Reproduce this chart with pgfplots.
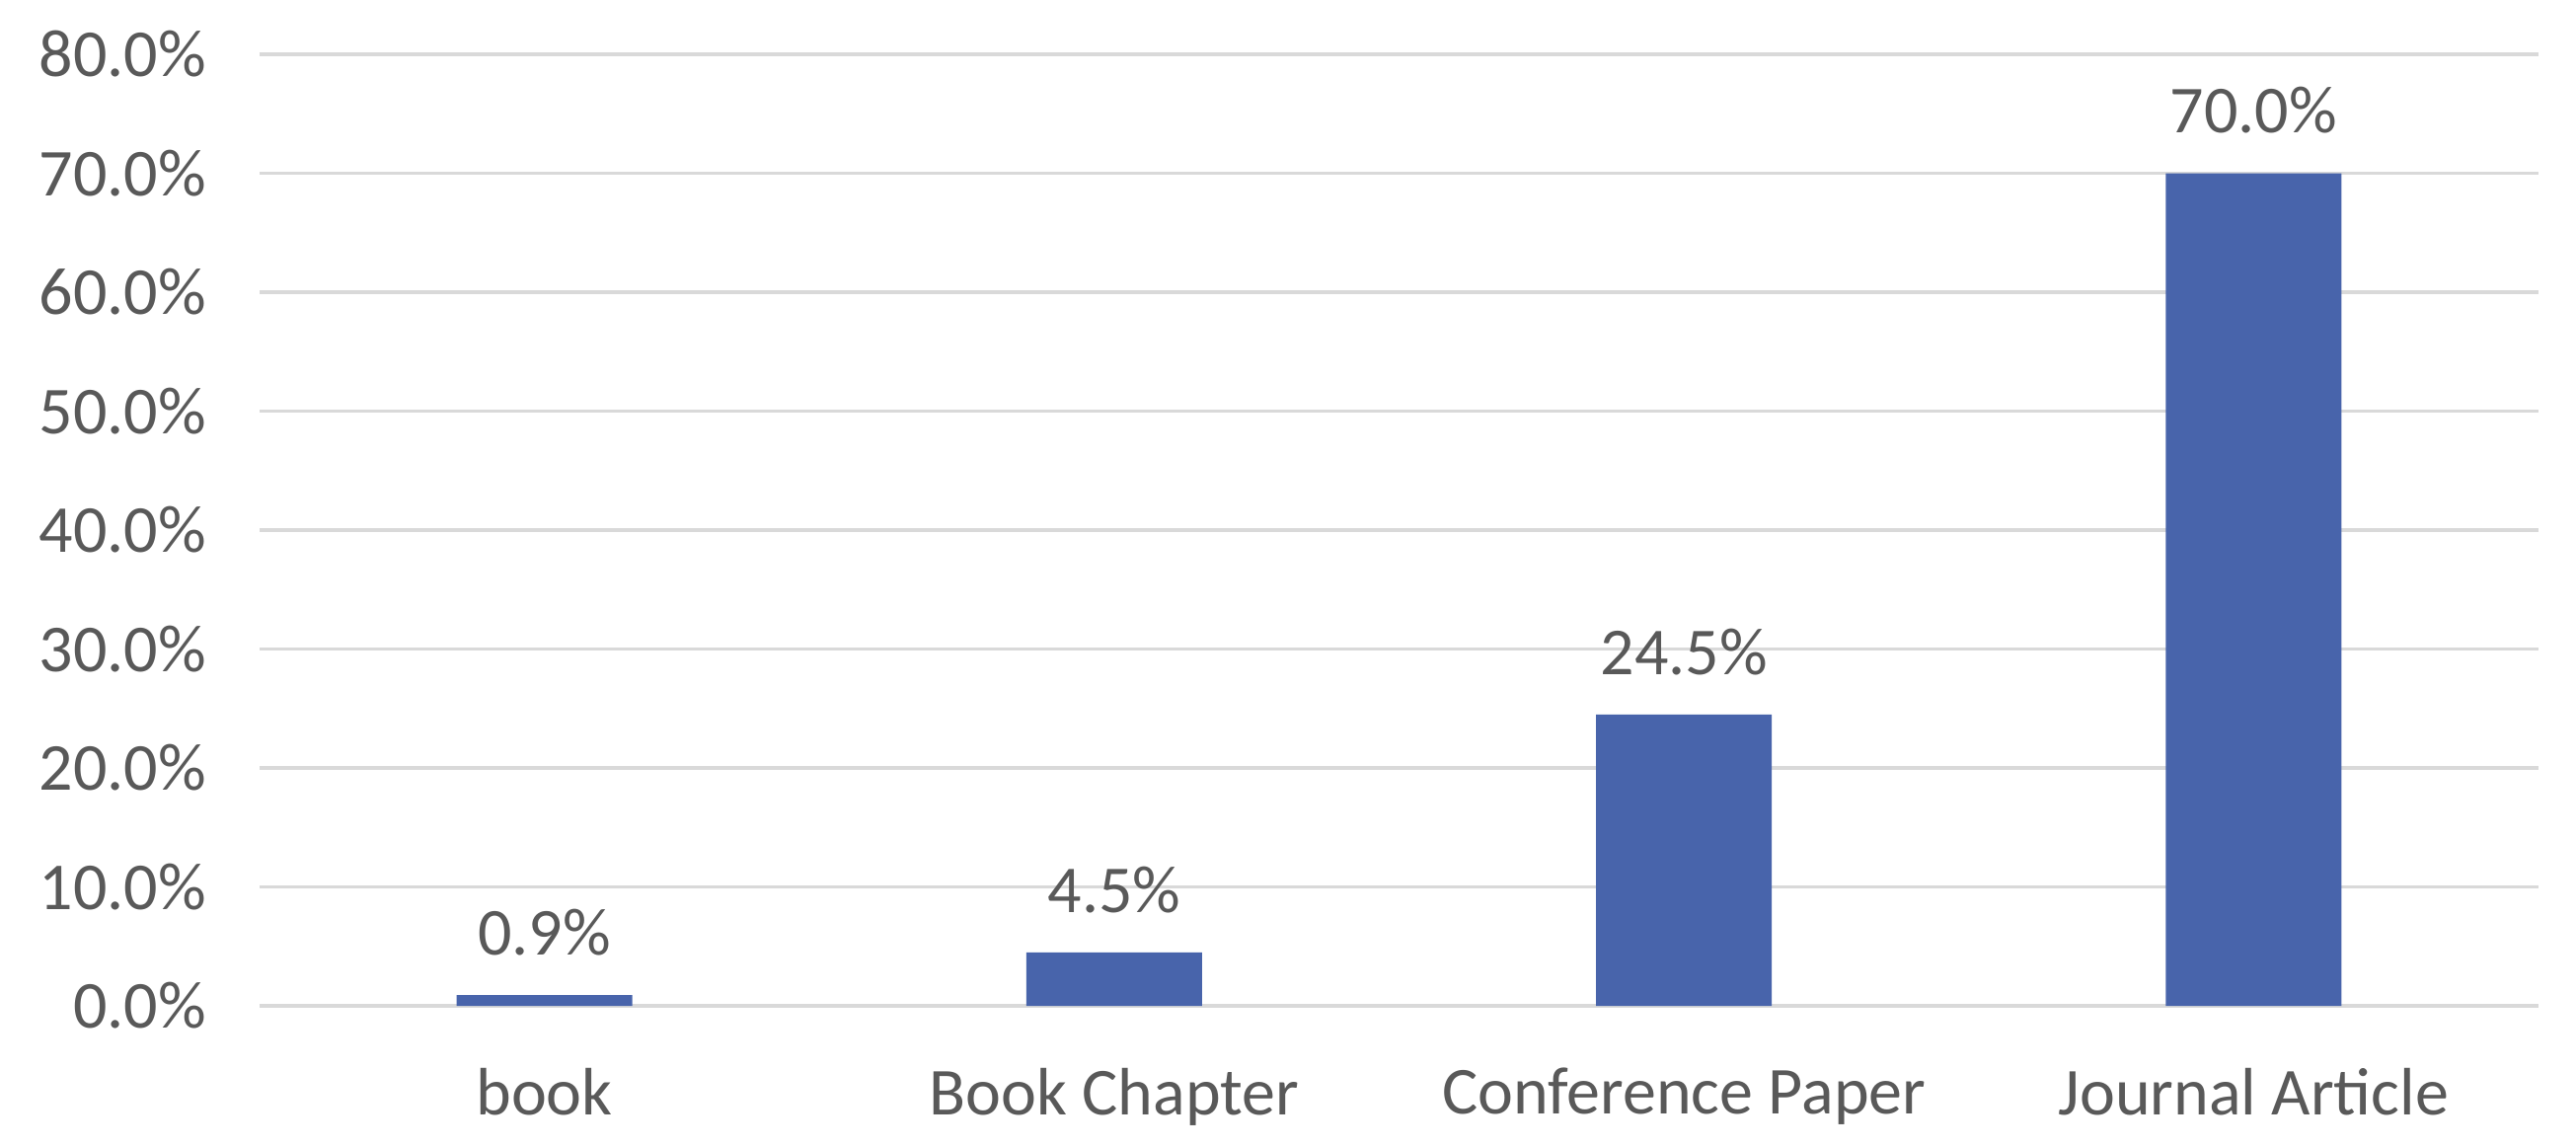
\documentclass[border=0pt]{standalone}
\usepackage{pgfplots}
\pgfplotsset{compat=1.18}
\usepackage{fontspec}
\setmainfont{Carlito}
\definecolor{barblue}{HTML}{4864AB}
\definecolor{txtgray}{HTML}{595959}
\definecolor{gridgray}{HTML}{D9D9D9}
\begin{document}
\begin{tikzpicture}
\begin{axis}[
  at={(0pt,0pt)}, anchor=south west,
  scale only axis,
  width=577.25pt, height=241pt,
  xmin=-0.5, xmax=3.5, ymin=0, ymax=80,
  ybar, bar width=44.5pt,
  xtick={0,1,2,3},
  xticklabels={book, Book Chapter, Conference Paper, Journal Article},
  ytick={0,10,...,80},
  yticklabels={0.0\%,10.0\%,20.0\%,30.0\%,40.0\%,50.0\%,60.0\%,70.0\%,80.0\%},
  ymajorgrids,
  major grid style={draw=gridgray, line width=0.8pt},
  axis line style={draw=none},
  major tick style={draw=none},
  tick label style={font=\fontsize{17}{20}\selectfont, text=txtgray},
  yticklabel style={xshift=-10pt},
  xticklabel style={yshift=-8pt},
  /pgf/number format/assume math mode=true,
  nodes near coords={\pgfmathprintnumber[fixed,zerofill,precision=1]{\pgfplotspointmeta}\%},
  nodes near coords style={font=\fontsize{17}{20}\selectfont, text=txtgray, anchor=south, yshift=6.5pt},
  clip=false,
]
\addplot[fill=barblue, draw=none] coordinates {(0,0.9) (1,4.5) (2,24.5) (3,70.0)};
\end{axis}
\path (-65.75pt,-35.5pt) rectangle (586.75pt,254.75pt);
\end{tikzpicture}
\end{document}
